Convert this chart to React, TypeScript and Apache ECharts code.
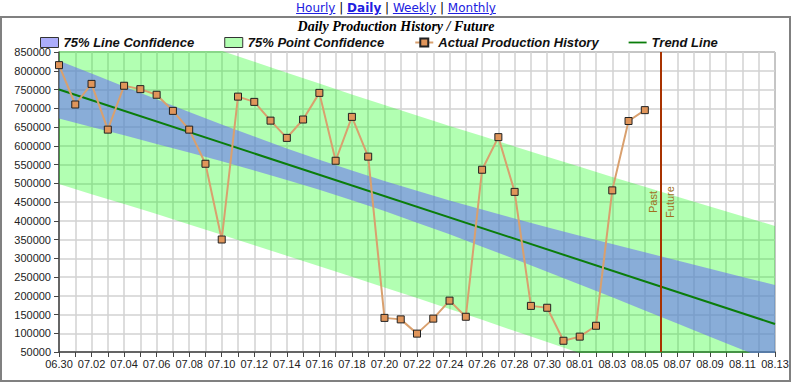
import React, { useEffect, useRef } from "react";
import * as echarts from "echarts";

// Category ticks (one per day)
const dates = [
  "06.30",
  "07.01", "07.02", "07.03", "07.04", "07.05", "07.06", "07.07", "07.08", "07.09", "07.10",
  "07.11", "07.12", "07.13", "07.14", "07.15", "07.16", "07.17", "07.18", "07.19", "07.20",
  "07.21", "07.22", "07.23", "07.24", "07.25", "07.26", "07.27", "07.28", "07.29", "07.30", "07.31",
  "08.01", "08.02", "08.03", "08.04", "08.05", "08.06", "08.07", "08.08", "08.09", "08.10",
  "08.11", "08.12", "08.13",
];

// Actual production, 06.30 .. 08.05
const actual = [
  815000, 710000, 765000, 643000, 760000, 751000, 736000, 693000, 643000, 552000,
  350000, 731000, 717000, 667000, 621000, 670000, 741000, 560000, 677000, 571000,
  141000, 137000, 99000, 139000, 187000, 144000, 536000, 623000, 477000, 173000,
  168000, 80000, 91000, 120000, 481000, 666000, 695000,
];

// Trend line end points
const trendDates = ["06.30", "08.13"];
const trendValues = [750000, 124700];

// Confidence bands, read every second day
const bandDates = [
  "06.30", "07.02", "07.04", "07.06", "07.08", "07.10", "07.12", "07.14", "07.16", "07.18",
  "07.20", "07.22", "07.24", "07.26", "07.28", "07.30", "08.01", "08.03", "08.05", "08.07",
  "08.09", "08.11", "08.13",
];
const lineConfUpper = [
  827000, 793000, 758000, 724000, 690000, 657000, 625000, 593000, 563000, 534000,
  506000, 480000, 454000, 430000, 406000, 383000, 360000, 338000, 316000, 294000,
  272000, 250000, 229000,
];
const lineConfLower = [
  673000, 650000, 628000, 605000, 582000, 559000, 534000, 509000, 483000, 455000,
  426000, 395000, 364000, 331000, 298000, 264000, 230000, 196000, 161000, 126000,
  91000, 56000, 21000,
];
const pointConfUpper = [
  1002000, 972000, 942000, 912000, 882000, 853000, 824000, 795000, 766000, 737000,
  709000, 681000, 653000, 626000, 598000, 571000, 544000, 517000, 491000, 464000,
  438000, 412000, 386000,
];
const pointConfLower = [
  498000, 471000, 445000, 418000, 390000, 363000, 335000, 307000, 279000, 251000,
  222000, 194000, 165000, 136000, 106000, 77000, 47000, 17000, -14000, -44000,
  -75000, -106000, -137000,
];

const dividerDate = "08.06";
const dividerLabels = ["Past", "Future"];

const legendNames = [
  "75% Line Confidence",
  "75% Point Confidence",
  "Actual Production History",
  "Trend Line",
];

const BLUE = "rgba(104,106,248,0.55)";
const GREEN = "rgba(0,255,0,0.3)";
const TREND = "#0a7d0a";

export default function App() {
  const ref = useRef<HTMLDivElement>(null);

  useEffect(() => {
    if (!ref.current) return;
    const chart = echarts.init(ref.current, undefined, { renderer: "svg" });

    const pairs = (xs: string[], ys: number[]) => xs.map((x, i) => [x, ys[i]]);
    const diffPairs = (xs: string[], up: number[], lo: number[]) =>
      xs.map((x, i) => [x, up[i] - lo[i]]);

    const hidden = {
      type: "line" as const,
      symbol: "none",
      lineStyle: { opacity: 0 },
      stackStrategy: "all" as const,
      silent: true,
    };

    const font = "Liberation Sans, Arial, sans-serif";

    chart.setOption({
      animation: false,
      backgroundColor: "transparent",
      title: {
        text: "Daily Production History / Future",
        left: "center",
        top: 19,
        padding: 0,
        textStyle: {
          fontFamily: "Liberation Serif, Times New Roman, serif",
          fontStyle: "italic",
          fontWeight: "bold",
          fontSize: 14,
          color: "#000",
        },
      },
      legend: {
        left: 40,
        top: 36,
        padding: 0,
        itemGap: 30,
        itemWidth: 18,
        itemHeight: 10,
        textStyle: {
          fontFamily: font,
          fontStyle: "italic",
          fontWeight: "bold",
          fontSize: 13,
          color: "#111",
        },
        data: [
          { name: legendNames[0], icon: "rect", itemStyle: { color: BLUE, borderColor: "#333", borderWidth: 1 } },
          { name: legendNames[1], icon: "rect", itemStyle: { color: GREEN, borderColor: "#333", borderWidth: 1 } },
          { name: legendNames[2] },
          { name: legendNames[3], icon: "path://M0,0 L40,0 L40,4 L0,4 Z", itemStyle: { color: TREND, borderWidth: 0 } },
        ],
      },
      grid: {
        left: 59,
        right: 17,
        top: 52,
        bottom: 31,
        show: true,
        borderColor: "#444",
        borderWidth: 1,
      },
      xAxis: {
        type: "category",
        data: dates,
        boundaryGap: false,
        axisLine: { lineStyle: { color: "#444", width: 1.5 } },
        axisTick: { interval: 0, length: 5, lineStyle: { color: "#444" } },
        axisLabel: { interval: 1, margin: 6, fontSize: 11, color: "#222", fontFamily: font },
        splitLine: { show: true, interval: 0, lineStyle: { color: "#d2d2d2", width: 1.5 } },
      },
      yAxis: {
        type: "value",
        min: 50000,
        max: 850000,
        interval: 50000,
        axisLine: { show: true, lineStyle: { color: "#444", width: 1.5 } },
        axisTick: { show: true, length: 5, lineStyle: { color: "#444" } },
        axisLabel: {
          margin: 8,
          fontSize: 11,
          color: "#222",
          fontFamily: font,
          formatter: (v: number) => String(v),
        },
        splitLine: { show: true, lineStyle: { color: "#d2d2d2", width: 1.5 } },
      },
      series: [
        { ...hidden, name: "pointLower", stack: "point", data: pairs(bandDates, pointConfLower) },
        {
          ...hidden,
          name: legendNames[1],
          stack: "point",
          itemStyle: { color: GREEN },
          areaStyle: { color: GREEN, opacity: 1 },
          data: diffPairs(bandDates, pointConfUpper, pointConfLower),
        },
        { ...hidden, name: "lineLower", stack: "line", data: pairs(bandDates, lineConfLower) },
        {
          ...hidden,
          name: legendNames[0],
          stack: "line",
          itemStyle: { color: BLUE },
          areaStyle: { color: BLUE, opacity: 1 },
          data: diffPairs(bandDates, lineConfUpper, lineConfLower),
        },
        {
          type: "line",
          name: legendNames[3],
          symbol: "none",
          itemStyle: { color: TREND },
          lineStyle: { color: TREND, width: 2 },
          data: pairs(trendDates, trendValues),
        },
        {
          type: "line",
          name: legendNames[2],
          symbol: "rect",
          symbolSize: 7,
          itemStyle: { color: "#E0955A", borderColor: "#222", borderWidth: 1 },
          lineStyle: { color: "#D9A06E", width: 2 },
          data: actual,
          markLine: {
            silent: true,
            symbol: ["none", "none"],
            lineStyle: { color: "#A83200", width: 2, type: "solid" },
            label: {
              fontSize: 11,
              color: "#A0701E",
              fontFamily: font,
              distance: 3,
            },
            data: [
              { xAxis: dividerDate, label: { formatter: dividerLabels[0], position: "insideMiddleTop" } },
              { xAxis: dividerDate, label: { formatter: dividerLabels[1], position: "insideMiddleBottom" } },
            ],
          },
        },
      ],
    });

    return () => chart.dispose();
  }, []);

  const linkStyle: React.CSSProperties = { color: "#2020E0", textDecoration: "underline" };
  const sep: React.CSSProperties = { color: "#000" };

  return (
    <div style={{ position: "absolute", left: 0, top: 0, width: 792, height: 383, background: "#fff", overflow: "hidden" }}>
      <div
        style={{
          position: "absolute",
          left: 0,
          top: 16,
          width: 787,
          height: 362,
          border: "2px solid #808080",
        }}
      />
      <div
        style={{
          position: "absolute",
          left: 0,
          top: 1,
          width: 792,
          textAlign: "center",
          fontFamily: "DejaVu Sans, Verdana, sans-serif",
          fontSize: 12,
          lineHeight: "14px",
          zIndex: 2,
        }}
      >
        <span style={linkStyle}>Hourly</span>
        <span style={sep}> | </span>
        <span style={{ ...linkStyle, fontWeight: "bold" }}>Daily</span>
        <span style={sep}> | </span>
        <span style={linkStyle}>Weekly</span>
        <span style={sep}> | </span>
        <span style={linkStyle}>Monthly</span>
      </div>
      <div ref={ref} style={{ position: "absolute", left: 0, top: 0, width: 792, height: 383 }} />
    </div>
  );
}
